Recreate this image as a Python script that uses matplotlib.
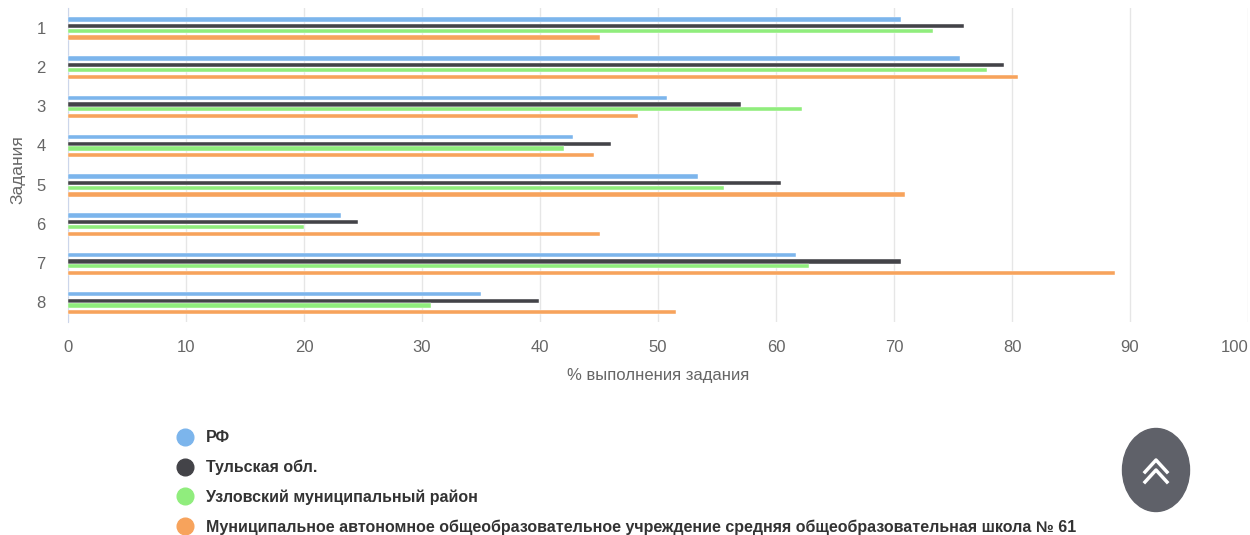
import matplotlib
matplotlib.use("Agg")
import matplotlib.pyplot as plt
from matplotlib.lines import Line2D
from matplotlib.patches import Ellipse
import numpy as np

plt.rcParams['font.family'] = ['Liberation Sans', 'DejaVu Sans']

# data
tasks = ['1', '2', '3', '4', '5', '6', '7', '8']
series_names = ['РФ', 'Тульская обл.', 'Узловский муниципальный район',
                'Муниципальное автономное общеобразовательное учреждение средняя общеобразовательная школа № 61']
rf = [70.6, 75.6, 50.8, 42.8, 53.4, 23.1, 61.7, 35.0]
tula = [75.9, 79.3, 57.0, 46.0, 60.4, 24.6, 70.6, 39.9]
uzlovaya = [73.3, 77.9, 62.2, 42.0, 55.6, 20.0, 62.8, 30.8]
school = [45.1, 80.5, 48.3, 44.6, 70.9, 45.1, 88.7, 51.5]
colors = ['#7cb5ec', '#434348', '#90ed7d', '#f7a35c']

W, H = 1250, 535
fig = plt.figure(figsize=(W / 100, H / 100), dpi=100)
ax = fig.add_axes([68 / W, 1 - 322 / H, 1180 / W, 314 / H])

y = np.arange(1, len(tasks) + 1)
offsets = [-0.21, -0.04, 0.08, 0.25]
for vals, c, off in zip([rf, tula, uzlovaya, school], colors, offsets):
    ax.barh(y + off, vals, height=0.11, color=c, edgecolor='white', linewidth=0.3, zorder=3)

ax.set_xlim(0, 100)
ax.set_ylim(8.5, 0.5)
ax.set_xticks(np.arange(0, 101, 10))
ax.set_yticks(y)
ax.set_yticklabels(tasks)
ax.grid(axis='x', color='#e6e6e6', linewidth=1, zorder=0)
for s in ['top', 'right', 'bottom']:
    ax.spines[s].set_visible(False)
ax.spines['left'].set_color('#ccd6eb')
ax.tick_params(axis='x', length=0, pad=13, labelsize=12, labelcolor='#666666')
ax.tick_params(axis='y', length=0, pad=16, labelsize=12, labelcolor='#666666')
ax.get_xticklabels()[-1].set_horizontalalignment('right')
ax.set_xlabel('% выполнения задания', fontsize=12, color='#666666', labelpad=9)
fig.text(18 / W, 1 - 170 / H, 'Задания', rotation=90, ha='center', va='center',
         fontsize=12.5, color='#666666')

handles = [Line2D([], [], marker='o', linestyle='none', markersize=12,
                  markerfacecolor=c, markeredgecolor=c) for c in colors]
fig.legend(handles, series_names, loc='upper left', bbox_to_anchor=(163 / W, 1 - 416 / H),
           frameon=False, handlelength=1.0, handletextpad=0.8, labelspacing=0.9,
           prop={'size': 11.5, 'weight': 'bold'}, labelcolor='#333333')

# scroll-to-top button
btn = Ellipse((1156 / W, 1 - 470 / H), 67 / W, 83 / H, transform=fig.transFigure,
              color='#5f6169', zorder=5)
fig.add_artist(btn)
for dy in [0, 10]:
    cx, cy = 1156, 466 + dy
    fig.add_artist(Line2D([(cx - 11) / W, cx / W, (cx + 11) / W],
                          [1 - (cy + 6) / H, 1 - (cy - 6) / H, 1 - (cy + 6) / H],
                          transform=fig.transFigure, color='white', linewidth=2.5, zorder=6))

fig.savefig('out.png', dpi=100)
